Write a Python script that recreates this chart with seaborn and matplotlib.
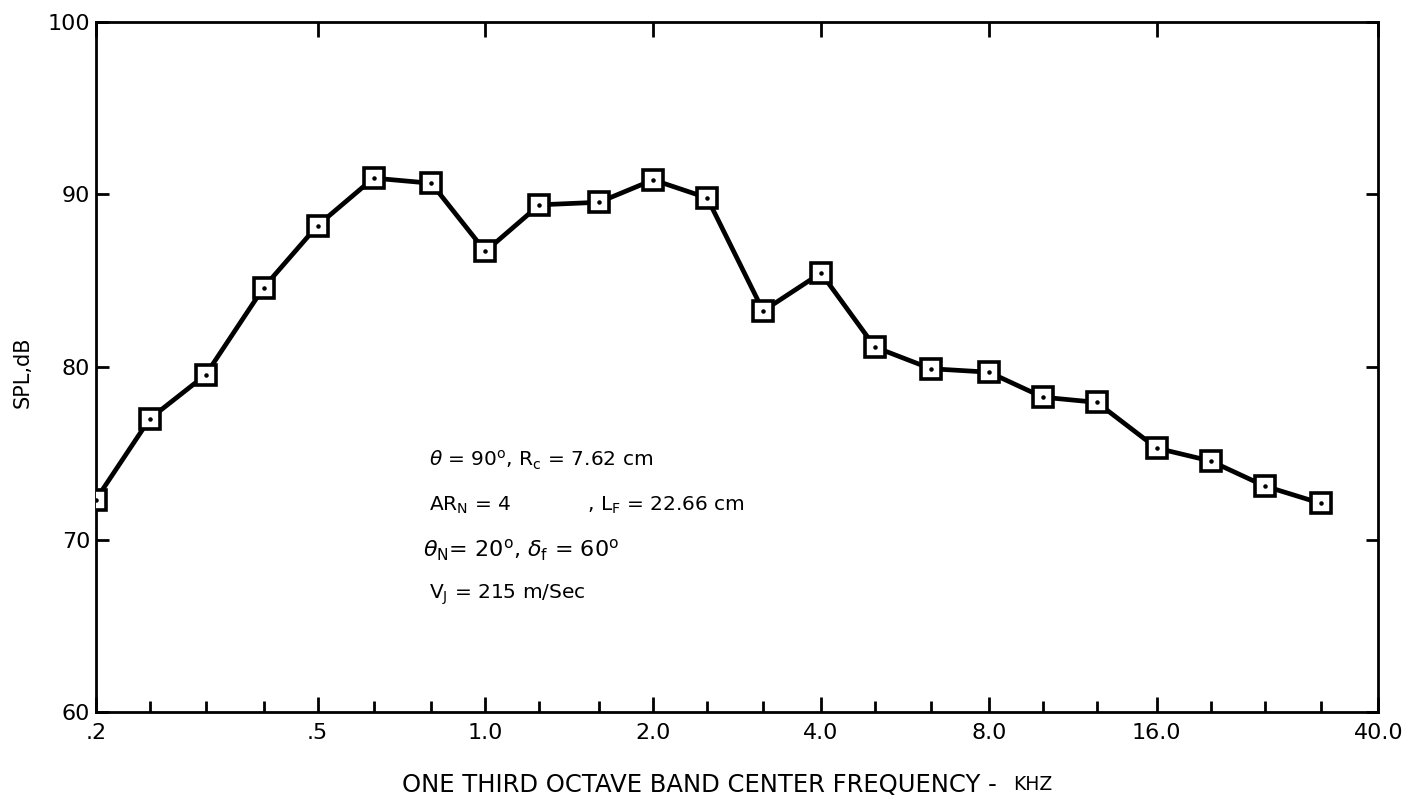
import matplotlib
matplotlib.use("Agg")
import matplotlib.pyplot as plt
import seaborn as sns
import numpy as np
from matplotlib.ticker import FixedLocator, NullFormatter

# Data
freq_khz = [0.2, 0.25, 0.315, 0.4, 0.5, 0.63, 0.8, 1.0, 1.25, 1.6, 2.0, 2.5,
            3.15, 4.0, 5.0, 6.3, 8.0, 10.0, 12.5, 16.0, 20.0, 25.0, 31.5]
spl_db = [72.3, 77.0, 79.55, 84.6, 88.2, 90.95, 90.65, 86.7, 89.4, 89.55, 90.85, 89.8,
          83.25, 85.45, 81.15, 79.9, 79.7, 78.25, 77.95, 75.3, 74.55, 73.1, 72.1]
major_ticks = [0.2, 0.5, 1.0, 2.0, 4.0, 8.0, 16.0, 40.0]
major_labels = [".2", ".5", "1.0", "2.0", "4.0", "8.0", "16.0", "40.0"]
minor_ticks = [0.25, 0.315, 0.4, 0.63, 0.8, 1.25, 1.6, 2.5, 3.15, 5.0, 6.3,
               10.0, 12.5, 20.0, 25.0, 31.5]
y_ticks = [60, 70, 80, 90, 100]

sns.set_theme(style="ticks")
plt.rcParams['font.family'] = ['DejaVu Sans']
plt.rcParams['text.color'] = 'black'
plt.rcParams['axes.labelcolor'] = 'black'
plt.rcParams['xtick.color'] = 'black'
plt.rcParams['ytick.color'] = 'black'

fig = plt.figure(figsize=(14.08, 8.02), dpi=100)
ax = fig.add_axes([0.068, 0.1122, 0.911, 0.8604])

sns.lineplot(x=freq_khz, y=spl_db, ax=ax, color="black", linewidth=3.4,
             marker="s", markersize=14, markerfacecolor="white",
             markeredgecolor="black", markeredgewidth=2.6, zorder=3)
ax.scatter(freq_khz, spl_db, s=5, color="black", zorder=4)

ax.set_xscale("log", base=2)
ax.set_xlim(0.2, 40.0)
ax.set_ylim(60, 100)

ax.xaxis.set_major_locator(FixedLocator(major_ticks))
ax.set_xticklabels(major_labels)
ax.xaxis.set_minor_locator(FixedLocator(minor_ticks))
ax.xaxis.set_minor_formatter(NullFormatter())
ax.set_yticks(y_ticks)
ax.set_yticklabels([str(v) for v in y_ticks])

for sp in ax.spines.values():
    sp.set_linewidth(2.0)
    sp.set_color("black")

ax.tick_params(axis="x", which="major", direction="in", length=11, width=2,
               labelsize=16, pad=8, top=True, bottom=True)
ax.tick_params(axis="x", which="minor", direction="in", length=8, width=2,
               top=False, bottom=True)
ax.tick_params(axis="y", which="major", direction="in", length=9, width=2,
               labelsize=16, pad=4, left=True, right=True)

ax.set_xlabel("")
ax.set_ylabel("")
fig.text(997 / 1408, 1 - 785 / 802, "ONE THIRD OCTAVE BAND CENTER FREQUENCY -",
         fontsize=17.5, ha="right", va="center")
fig.text(1013 / 1408, 1 - 785 / 802, "KHZ", fontsize=13.5, ha="left", va="center")
fig.text(23 / 1408, 1 - 372 / 802, "SPL,dB", fontsize=15, rotation=90,
         ha="center", va="center")

fs = 14.5
ax.text(0.2595, 0.365, r"$\theta$ = 90$^{\rm o}$, R$_{\rm c}$ = 7.62 cm",
        transform=ax.transAxes, fontsize=fs, va="center")
ax.text(0.2595, 0.300, r"AR$_{\rm N}$ = 4            , L$_{\rm F}$ = 22.66 cm",
        transform=ax.transAxes, fontsize=fs, va="center")
ax.text(0.2555, 0.235, r"$\theta_{\rm N}$= 20$^{\rm o}$, $\delta_{\rm f}$ = 60$^{\rm o}$",
        transform=ax.transAxes, fontsize=fs + 1.5, va="center")
ax.text(0.2595, 0.170, r"V$_{\rm J}$ = 215 m/Sec",
        transform=ax.transAxes, fontsize=fs, va="center")

fig.savefig("out.png", dpi=100)
